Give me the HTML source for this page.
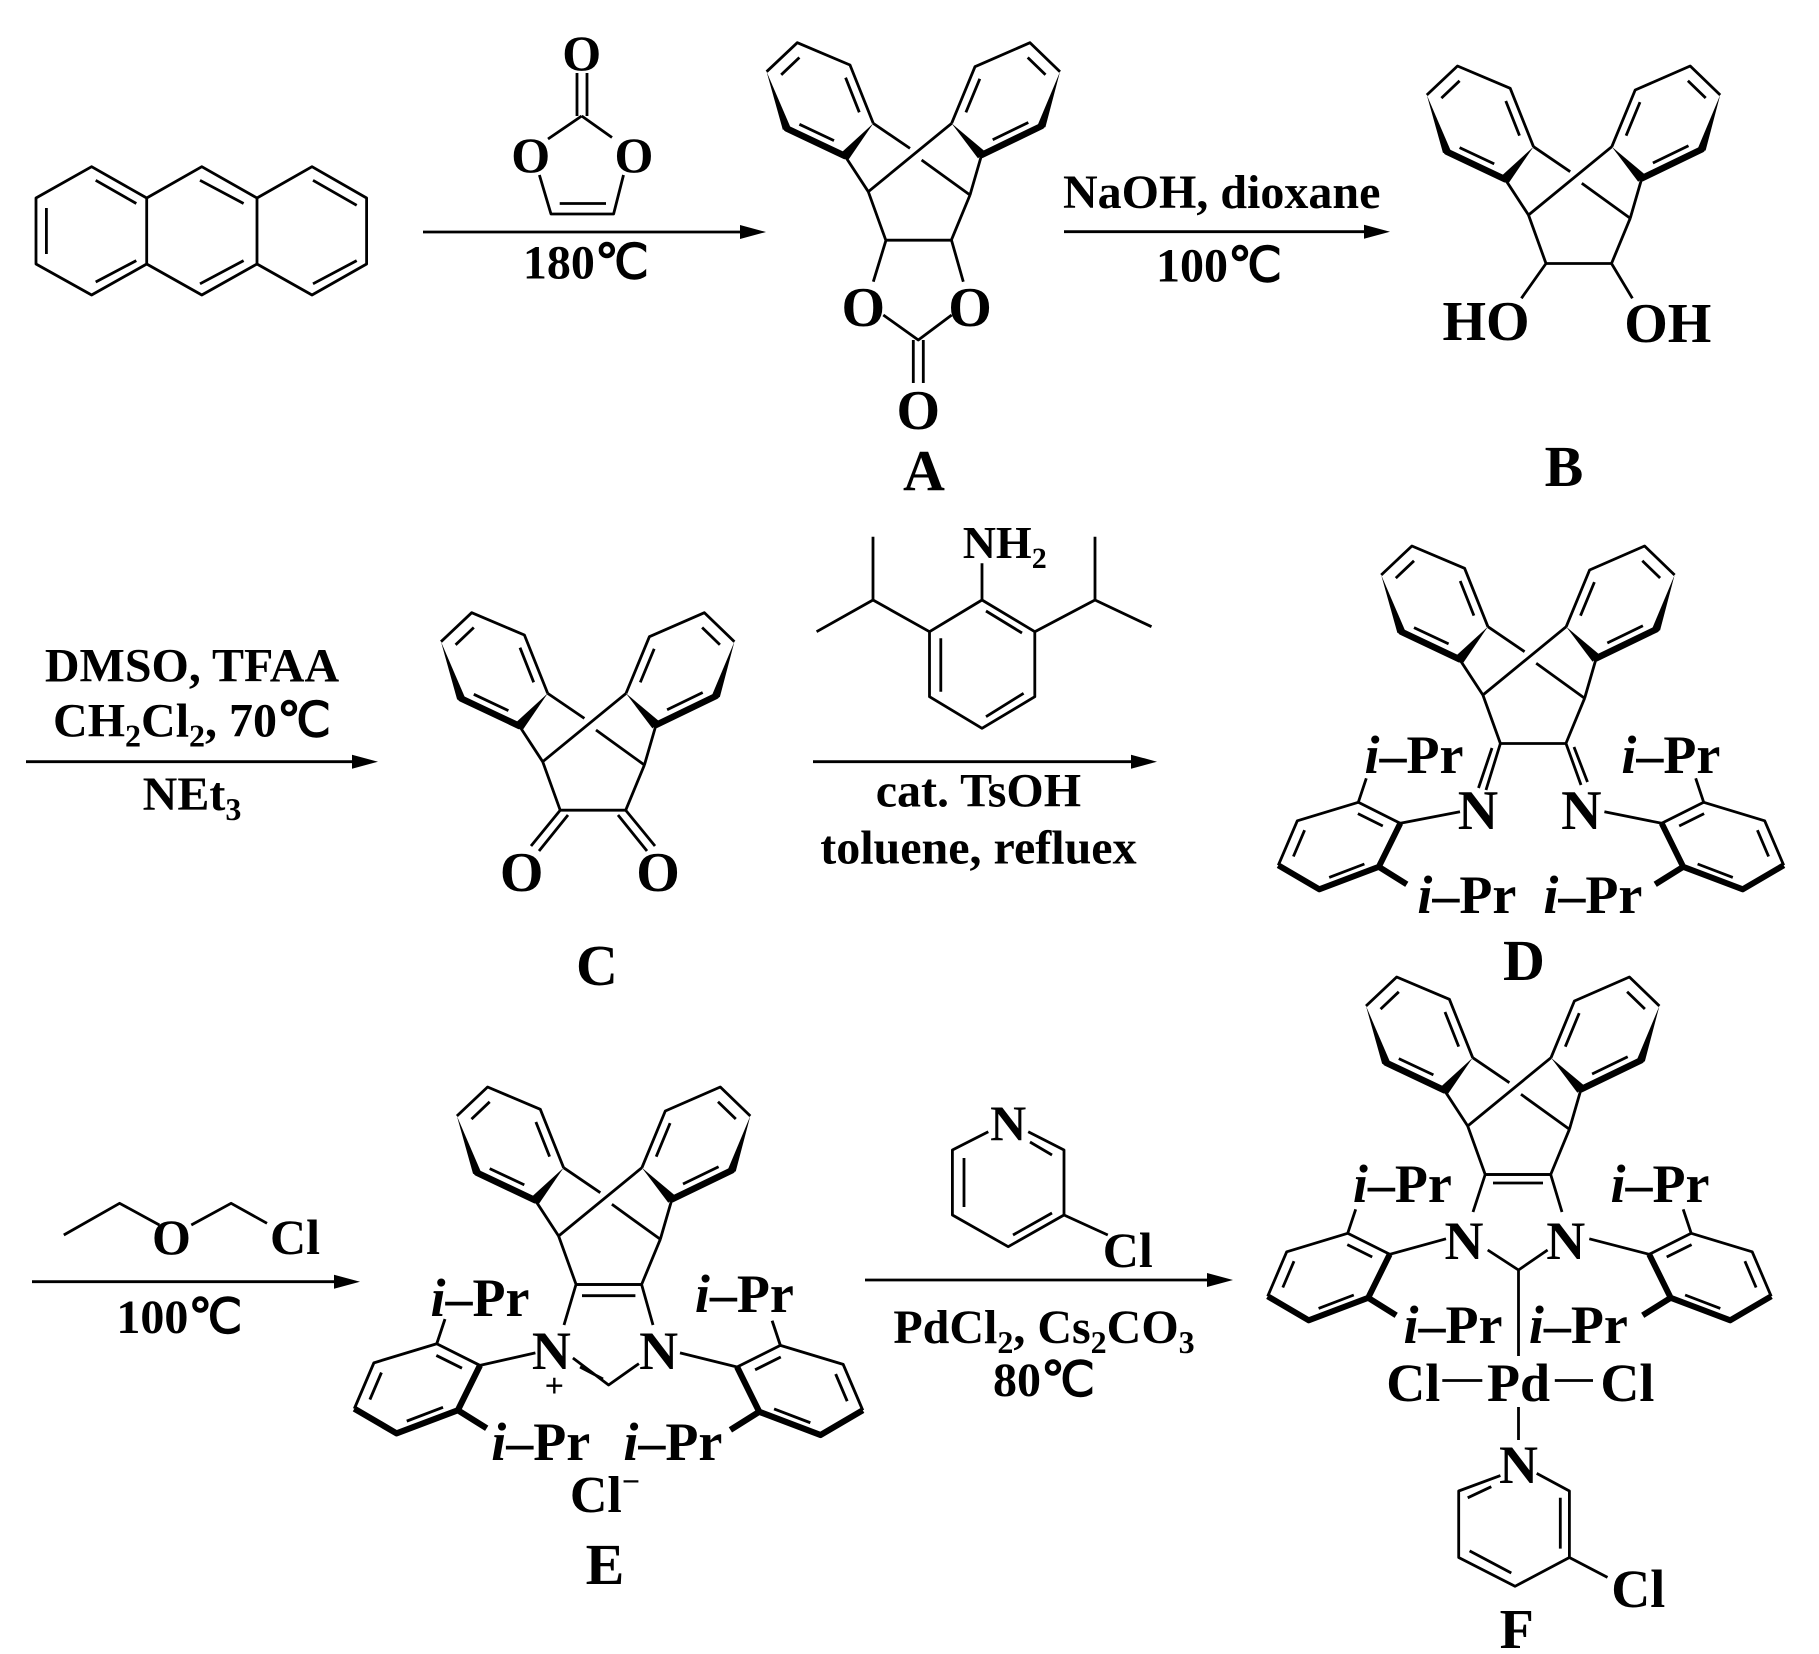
<!DOCTYPE html>
<html><head><meta charset="utf-8"><style>
html,body{margin:0;padding:0;background:#fff;}
svg{display:block;}
text{font-family:"Liberation Serif",serif;font-weight:bold;fill:#000;}
</style></head><body>
<svg width="1819" height="1654" viewBox="0 0 1819 1654" xmlns="http://www.w3.org/2000/svg">
<defs>
<g id="sk">
<path fill="none" stroke="#000" stroke-width="2.8" stroke-linejoin="round" d="M-101.7,-120 L-71,-149 L-18.3,-126.7 L5,-68.3 M-23.3,-35.7 L0,0 M5,-68.3 L41.7,-43.3 M0,0 L83.3,-68.3 M53.3,-31.7 L101.7,3.3 M191.7,-120 L161.7,-149 L106.7,-125 L83.3,-68.3 M113.3,-36.7 L101.7,3.3 M0,0 L17.5,48.5 L83,48.5 L101.7,3.3 M-87.1,-116.9 L-68.9,-134.2 M-22.7,-114 L-9,-79.4 M-34.3,-51.1 L-68.9,-67.4 M159.4,-134.2 L177.2,-117 M111.5,-112.9 L97.6,-79.3 M124.4,-52 L160,-69.2"/>
<path fill="none" stroke="#000" stroke-width="6.5" stroke-linecap="round" d="M-81.7,-63.3 L-23.3,-35.7 M173.3,-65.7 L113.3,-36.7"/>
<polygon points="-101.7,-120 -77.9,-64.6 -85.5,-62"/>
<polygon points="5,-68.3 -19.5,-32.4 -27.1,-39"/>
<polygon points="191.7,-120 177.1,-64.4 169.5,-67"/>
<polygon points="83.3,-68.3 109.7,-33.3 116.9,-40.1"/>
</g>
<g id="ar">
<path fill="none" stroke="#000" stroke-width="2.8" stroke-linejoin="round" d="M0,0 L-42,-21 L-103,-2.5 L-122,42 M-17.5,2.7 L-42.4,-9.7 M-95.7,6.9 L-106.9,33.2 M-71.1,54.1 L-35.9,40.7 M-42,-21 L-34,-45"/>
<path fill="none" stroke="#000" stroke-width="6" stroke-linejoin="round" d="M-122,42 L-81,66 L-21.5,43.5 L0,0 M-21.5,43.5 L6.5,61"/>
</g>
</defs>

<g fill="none" stroke="#000" stroke-width="2.8" stroke-linejoin="round">
<path d="M36,198 L91.6,166.7 L146.7,198 L146.7,264 L91.6,295 L36,264 Z M146.7,198 L201.8,166.7 L257,198 L257,264 L201.8,295 L146.7,264 M257,198 L312,166.7 L366.6,198 L366.6,264 L312,295 L257,264"/>
<path d="M46.4,208 L46.4,254 M95.7,180.3 L136.3,203.5 M95.7,282 L136.3,260.6 M200,180.3 L243.6,203.5 M200,283.8 L243.6,260.6 M313,180.3 L356.7,205.3 M313,283.8 L356.7,260.6"/>
<path d="M577,73 L577,116 M587,73 L587,116 M581.7,116 L548,139 M581.7,116 L612,137.5 M539.4,175 L551,214 L613.6,214 L623.5,175 M559.7,203.5 L606,203.5"/>
<path d="M423,232 L750,232 M1064,231.7 L1374,231.7 M26,761.7 L362,761.7 M813,761.7 L1141,761.7 M32,1281.7 L345,1281.7 M865,1280 L1217,1280"/>
<path d="M886,240.2 L873.3,281.7 M951.5,240.2 L963.3,281.7 M883.3,315 L918.3,340 L951.7,315 M913.3,340 L913.3,383 M923.3,340 L923.3,383"/>
<path d="M1546,263.5 L1521.4,298.3 M1611.5,263.5 L1632.4,298.3"/>
<path d="M560.2,810.2 L531,846 M568,815 L539,851 M625.7,810.2 L655,846 M618,815 L647,851"/>
<path d="M982,600 L1034.8,631.7 L1034.8,696.7 L982,728.3 L929.5,696.7 L929.5,631.7 Z M982,600 L982,563.3 M929.5,631.7 L873,600 L873,536.7 M873,600 L816.6,631.7 M1034.8,631.7 L1095,600 L1095,536.7 M1095,600 L1151.5,626.7 M940.8,638.3 L940.8,691.7 M986,611 L1022,633 M986,716.7 L1023.6,693.3"/>
<path d="M1500.4,743.5 L1486,790 M1492,748 L1478.5,788 M1566,743.5 L1581,785 M1574,747 L1587.5,782 M1460,811.7 L1400.3,823.3 M1604.4,811.7 L1661.7,823.3"/>
<path d="M63.8,1235 L119.6,1203.3 L159.4,1225 M191.3,1225 L231.1,1203.3 L267,1223.3"/>
<path d="M576,1284.5 L641.6,1284.5 M582,1295.7 L635.4,1295.7 M576,1284.5 L564,1325 M641.6,1284.5 L653,1325 M572.9,1358 L608.6,1385 L638.9,1363.6 M580,1367 L603,1379 M535.4,1352.9 L480,1365.4 M680,1352.9 L737.1,1367"/>
<path d="M988.3,1131.7 L952.4,1150 L952.4,1215 L1008.2,1246.7 L1064,1215 L1064,1150 L1028.2,1131.7 M964,1158 L964,1207 M1013,1235 L1052,1213 M1030,1142 L1052,1155 M1064,1215 L1107.8,1235"/>
<path d="M1485.2,1174.5 L1550.7,1174.5 M1493,1183 L1543,1183 M1485.2,1174.5 L1473,1212 M1550.7,1174.5 L1562,1212 M1487.7,1250 L1518.5,1270 L1547.6,1250 M1518.5,1270 L1518.5,1356 M1442.3,1380.5 L1482.3,1380.5 M1554.8,1380.5 L1593,1380.5 M1518.5,1407 L1518.5,1440 M1500.4,1475.6 L1458.7,1491 L1458.7,1557.5 L1515,1586.3 L1569.4,1557.5 L1569.4,1491 L1536.7,1473.4 M1467.7,1497.8 L1491.3,1486.7 M1469.6,1550.9 L1511.3,1573 M1560.3,1497.8 L1560.3,1548.6 M1569.4,1557.5 L1607.5,1577.4 M1446,1238.8 L1389.7,1254.3 M1589.3,1238.8 L1649.2,1254.3"/>
</g>
<g fill="#000">
<polygon points="766,232 740,225 740,239"/>
<polygon points="1390,231.7 1364,224.7 1364,238.7"/>
<polygon points="378,761.7 352,754.7 352,768.7"/>
<polygon points="1157,761.7 1131,754.7 1131,768.7"/>
<polygon points="360,1281.7 334,1274.7 334,1288.7"/>
<polygon points="1233,1280 1207,1273 1207,1287"/>
</g>

<use href="#sk" transform="translate(868.3,191.7)"/>
<use href="#sk" transform="translate(1528.5,215)"/>
<use href="#sk" transform="translate(542.7,761.7)"/>
<use href="#sk" transform="translate(1482.9,695)"/>
<use href="#sk" transform="translate(558.6,1236)"/>
<use href="#sk" transform="translate(1467.7,1126)"/>
<use href="#ar" transform="translate(1400.3,823.3)"/>
<use href="#ar" transform="translate(1661.7,823.3) scale(-1,1)"/>
<use href="#ar" transform="translate(480,1365.4) scale(1.03)"/>
<use href="#ar" transform="translate(737.1,1367) scale(-1.03,1.03)"/>
<use href="#ar" transform="translate(1389.7,1254.3)"/>
<use href="#ar" transform="translate(1649.2,1254.3) scale(-1,1)"/>

<g text-anchor="middle" font-size="50">
<text x="581.7" y="70">O</text>
<text x="530.7" y="172">O</text>
<text x="634" y="172">O</text>
<text x="585.8" y="278.5" font-size="48">180℃</text>
<text x="863.3" y="326" font-size="56">O</text>
<text x="970" y="326" font-size="56">O</text>
<text x="918.3" y="429" font-size="56">O</text>
<text x="924" y="490" font-size="58">A</text>
<text x="1221.7" y="208" font-size="48">NaOH, dioxane</text>
<text x="1219" y="281.7" font-size="48">100℃</text>
<text x="1486" y="340" font-size="56">HO</text>
<text x="1667.8" y="342" font-size="56">OH</text>
<text x="1564" y="486" font-size="58">B</text>
<text x="192" y="681.7" font-size="48">DMSO, TFAA</text>
<text x="192" y="736.7" font-size="48">CH<tspan font-size="32" dy="10">2</tspan><tspan dy="-10">Cl</tspan><tspan font-size="32" dy="10">2</tspan><tspan dy="-10">, 70℃</tspan></text>
<text x="192" y="810" font-size="48">NEt<tspan font-size="32" dy="10">3</tspan></text>
<text x="521.7" y="891" font-size="56">O</text>
<text x="658" y="891" font-size="56">O</text>
<text x="597" y="985" font-size="58">C</text>
<text x="1004.7" y="558" font-size="46">NH<tspan font-size="30" dy="10">2</tspan></text>
<text x="978.4" y="806.7" font-size="48">cat. TsOH</text>
<text x="978.4" y="863.3" font-size="48">toluene, refluex</text>
<text x="1478" y="829" font-size="56">N</text>
<text x="1581.4" y="829" font-size="56">N</text>
<g font-size="54">
<text x="1414" y="773"><tspan font-style="italic">i</tspan>–Pr</text>
<text x="1670.8" y="773"><tspan font-style="italic">i</tspan>–Pr</text>
<text x="1466.8" y="913"><tspan font-style="italic">i</tspan>–Pr</text>
<text x="1592.9" y="913"><tspan font-style="italic">i</tspan>–Pr</text>
<text x="480" y="1316"><tspan font-style="italic">i</tspan>–Pr</text>
<text x="744.3" y="1312"><tspan font-style="italic">i</tspan>–Pr</text>
<text x="540.7" y="1460"><tspan font-style="italic">i</tspan>–Pr</text>
<text x="672.9" y="1460"><tspan font-style="italic">i</tspan>–Pr</text>
<text x="1402.4" y="1202"><tspan font-style="italic">i</tspan>–Pr</text>
<text x="1660" y="1202"><tspan font-style="italic">i</tspan>–Pr</text>
<text x="1453" y="1343"><tspan font-style="italic">i</tspan>–Pr</text>
<text x="1578.4" y="1343"><tspan font-style="italic">i</tspan>–Pr</text>
</g>
<text x="1524" y="980" font-size="58">D</text>
<text x="171.4" y="1254">O</text>
<text x="295" y="1254">Cl</text>
<text x="179.3" y="1333" font-size="48">100℃</text>
<text x="551.4" y="1369" font-size="54">N</text>
<text x="658.6" y="1369" font-size="54">N</text>
<text x="554.3" y="1397" font-size="34">+</text>
<text x="605" y="1512" font-size="52">Cl<tspan font-size="32" dy="-20">−</tspan></text>
<text x="605" y="1584" font-size="58">E</text>
<text x="1008.2" y="1140">N</text>
<text x="1127.8" y="1267">Cl</text>
<text x="1044" y="1343" font-size="48">PdCl<tspan font-size="32" dy="10">2</tspan><tspan dy="-10">, Cs</tspan><tspan font-size="32" dy="10">2</tspan><tspan dy="-10">CO</tspan><tspan font-size="32" dy="10">3</tspan></text>
<text x="1044" y="1396" font-size="48">80℃</text>
<text x="1464" y="1259" font-size="54">N</text>
<text x="1565.7" y="1259" font-size="54">N</text>
<text x="1413.3" y="1401" font-size="54">Cl</text>
<text x="1518.5" y="1401" font-size="54">Pd</text>
<text x="1627.4" y="1401" font-size="54">Cl</text>
<text x="1518.5" y="1483" font-size="54">N</text>
<text x="1638.3" y="1607" font-size="54">Cl</text>
<text x="1516.7" y="1648" font-size="56">F</text>
</g>
</svg>
</body></html>
